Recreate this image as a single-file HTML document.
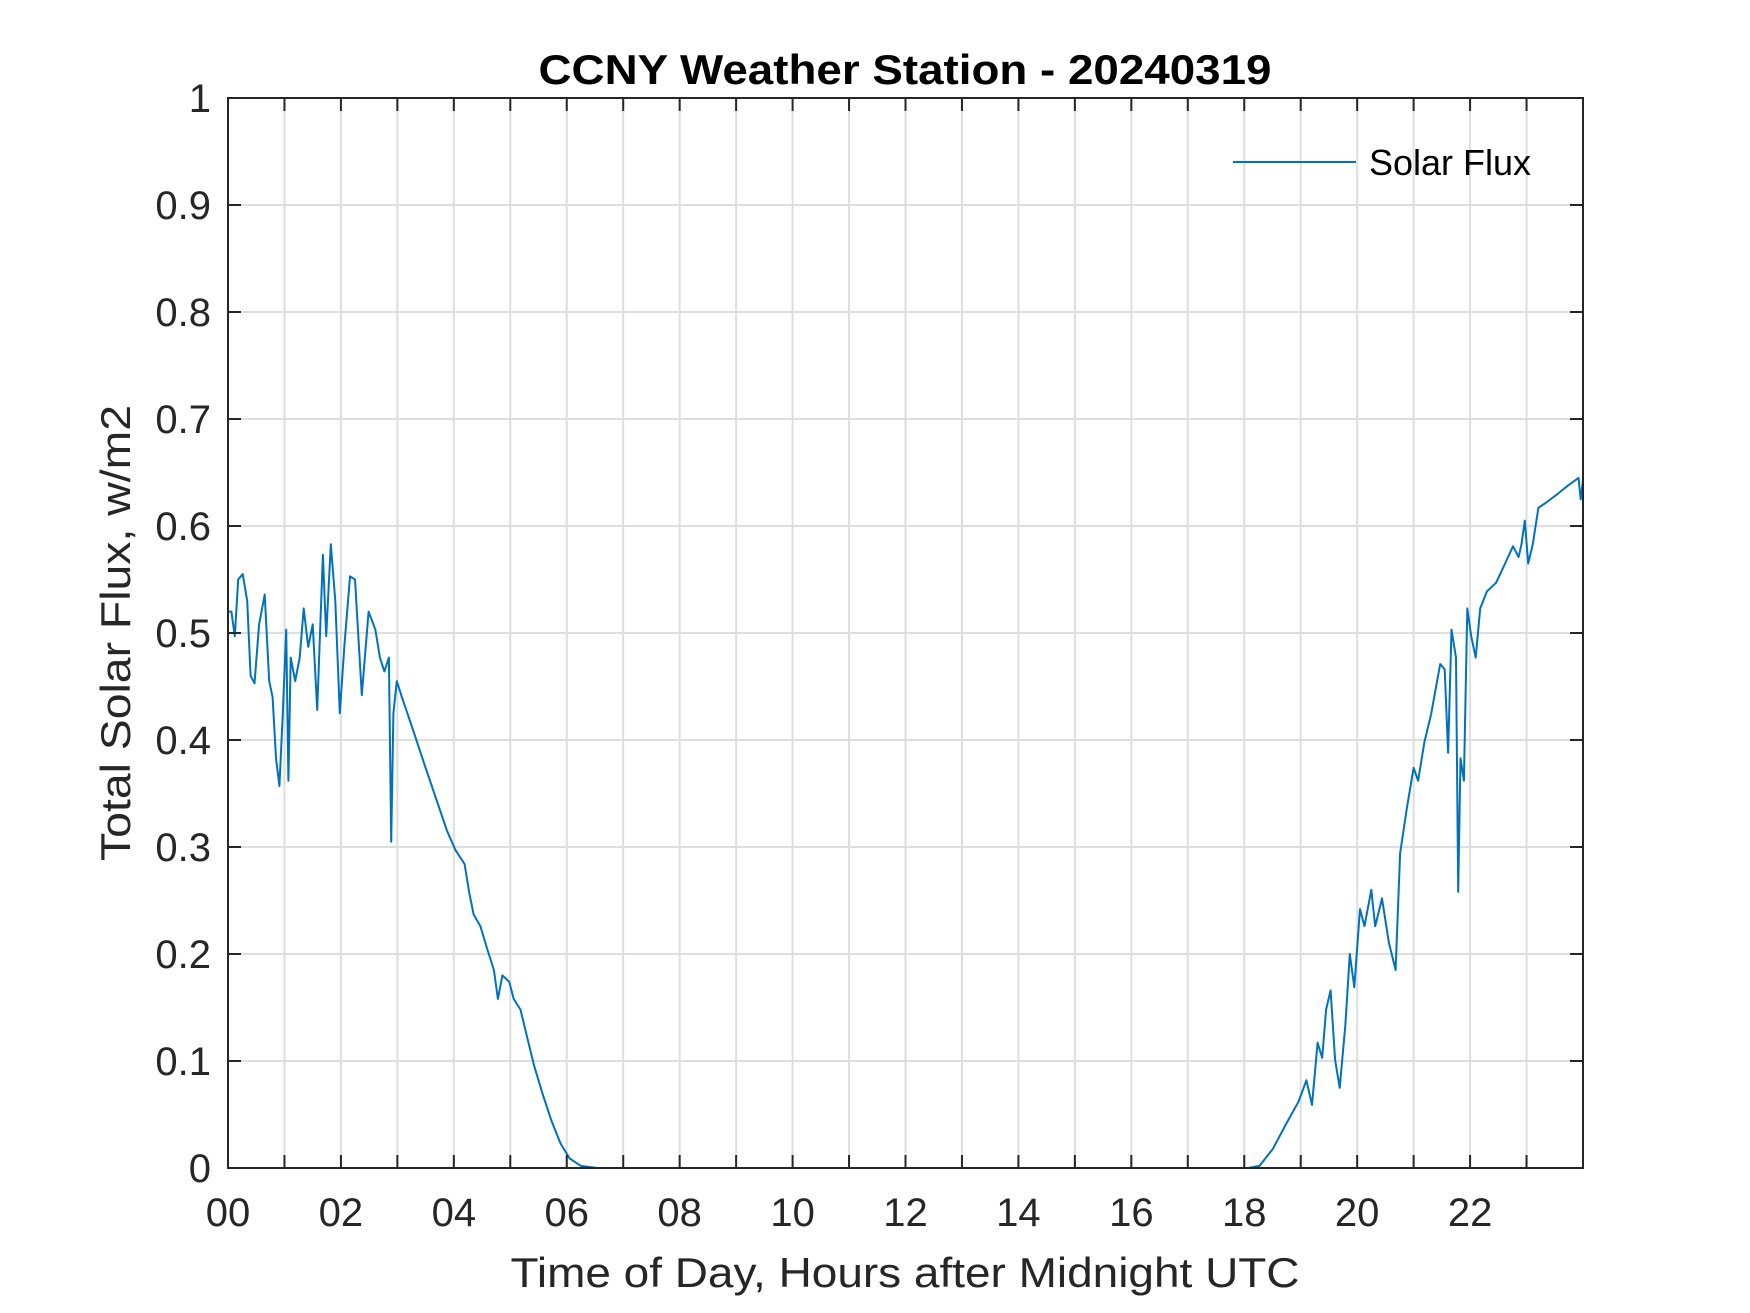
<!DOCTYPE html>
<html><head><meta charset="utf-8"><style>
html,body{margin:0;padding:0;background:#fff;}
svg{display:block;font-family:"Liberation Sans",Arial,sans-serif;}
</style></head><body>
<svg id="chart" width="1750" height="1313" viewBox="0 0 1750 1313">
<rect width="1750" height="1313" fill="#fff"/>
<g id="grid"></g>
<g id="series"></g>
<rect x="228" y="98" width="1355" height="1070" fill="none" stroke="#262626" stroke-width="2"/>
<g id="ticks"></g>
<text x="905" y="84" text-anchor="middle" font-size="42" font-weight="bold" fill="#000" textLength="733" lengthAdjust="spacingAndGlyphs">CCNY Weather Station - 20240319</text>
<text x="905" y="1287" text-anchor="middle" font-size="42" fill="#262626" textLength="789" lengthAdjust="spacingAndGlyphs">Time of Day, Hours after Midnight UTC</text>
<text transform="translate(130,633) rotate(-90)" text-anchor="middle" font-size="42" fill="#262626" textLength="456" lengthAdjust="spacingAndGlyphs">Total Solar Flux, w/m2</text>
<g>
<line x1="1233" y1="162" x2="1356" y2="162" stroke="#0072BD" stroke-width="2"/>
<text x="1369" y="175" font-size="36" fill="#000">Solar Flux</text>
</g>
</svg>
<script>
const hours = [0,.06,.12,.18,.26,.34,.40,.47,.55,.65,.73,.79,.85,.91,.97,1.03,1.07,1.11,1.19,1.27,1.34,1.42,1.50,1.58,1.68,1.74,1.82,1.90,1.98,2.06,2.16,2.25,2.37,2.49,2.61,2.69,2.77,2.85,2.89,2.93,2.99,3.08,3.28,3.48,3.68,3.88,4.03,4.19,4.27,4.35,4.47,4.59,4.71,4.78,4.86,4.98,5.06,5.18,5.30,5.42,5.58,5.73,5.89,6.05,6.25,6.54,18.07,18.27,18.51,18.74,18.96,19.10,19.20,19.30,19.38,19.45,19.53,19.61,19.69,19.79,19.87,19.95,20.05,20.13,20.25,20.32,20.44,20.56,20.68,20.76,20.88,21.00,21.08,21.19,21.31,21.47,21.55,21.61,21.67,21.75,21.79,21.83,21.89,21.95,22.02,22.10,22.18,22.30,22.46,22.62,22.76,22.86,22.91,22.97,23.03,23.11,23.21,23.35,23.55,23.74,23.92,23.96,24.0];
const flux = [.52,.52,.497,.55,.555,.53,.46,.453,.508,.536,.455,.44,.383,.357,.425,.503,.362,.477,.455,.477,.523,.487,.508,.428,.573,.497,.583,.53,.425,.487,.553,.55,.442,.52,.503,.477,.464,.477,.305,.425,.455,.44,.409,.377,.346,.315,.297,.284,.258,.237,.226,.205,.185,.158,.18,.174,.158,.148,.122,.096,.068,.044,.023,.009,.002,0,0,.002,.018,.041,.062,.082,.059,.117,.103,.148,.166,.101,.075,.133,.2,.169,.242,.226,.26,.226,.252,.211,.185,.294,.336,.374,.362,.398,.424,.471,.466,.388,.503,.477,.258,.383,.362,.523,.497,.477,.523,.539,.547,.565,.581,.571,.583,.605,.565,.583,.617,.622,.63,.638,.645,.625,.643];
const xTickLabels = ["00","02","04","06","08","10","12","14","16","18","20","22"];
const yTickLabels = ["0","0.1","0.2","0.3","0.4","0.5","0.6","0.7","0.8","0.9","1"];
const X0=228,X1=1583,Y0=1168,Y1=98;
function xs(h){return X0+(h/24)*(X1-X0);}
function ys(v){return Y0-v*(Y0-Y1);}
const NS="http://www.w3.org/2000/svg";
const grid=document.getElementById('grid'), ticks=document.getElementById('ticks'), series=document.getElementById('series');
function mk(tag,attrs,parent){const e=document.createElementNS(NS,tag);for(const k in attrs)e.setAttribute(k,attrs[k]);parent.appendChild(e);return e;}
for(let h=1;h<24;h++){
  const g=mk('line',{x1:xs(h),x2:xs(h),y1:Y1,y2:Y0,stroke:'#dedede','stroke-width':2},grid);
  
  
  const t1=mk('line',{x1:xs(h),x2:xs(h),y1:Y0,y2:Y0-13,stroke:'#262626','stroke-width':2},ticks);
  
  
  const t2=mk('line',{x1:xs(h),x2:xs(h),y1:Y1,y2:Y1+13,stroke:'#262626','stroke-width':2},ticks);
  
  
}
xTickLabels.forEach((lab,i)=>{
  const t=mk('text',{x:xs(i*2),y:1226,'text-anchor':'middle','font-size':40,fill:'#262626'},ticks);
  t.textContent=lab;
  
  
});
yTickLabels.forEach((lab,i)=>{
  const v=i/10, y=ys(v);
  if(i>0&&i<10){
    const g=mk('line',{x1:X0,x2:X1,y1:y,y2:y,stroke:'#dedede','stroke-width':2},grid);
    
    
  }
  const t1=mk('line',{x1:X0,x2:X0+13,y1:y,y2:y,stroke:'#262626','stroke-width':2},ticks);
  
  
  const t2=mk('line',{x1:X1,x2:X1-13,y1:y,y2:y,stroke:'#262626','stroke-width':2},ticks);
  
  
  const t=mk('text',{x:211,y:y+14,'text-anchor':'end','font-size':40,fill:'#262626'},ticks);
  t.textContent=lab;
  
  
});
const d=hours.map((h,i)=>(i?'L':'M')+xs(h).toFixed(1)+','+ys(flux[i]).toFixed(1)).join(' ');
const p=mk('path',{d:d,fill:'none',stroke:'#0072BD','stroke-width':2,'stroke-linejoin':'round'},series);


</script>
</body></html>
